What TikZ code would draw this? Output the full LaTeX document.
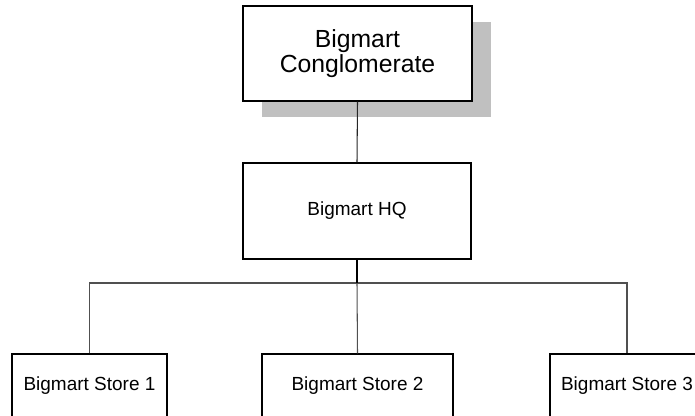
\documentclass[tikz,border=0pt]{standalone}
\usepackage{fontspec}
\setmainfont{Liberation Sans}
\usepackage{tikz}
\usetikzlibrary{positioning, shadows}
\definecolor{mydark}{RGB}{0,0,0}
\definecolor{mygrey}{RGB}{80,80,80}
\definecolor{myshadow}{RGB}{192,192,192}
\tikzset{
  orgbox/.style={rectangle, draw=mydark, fill=white, align=center,
    line width=0.9pt, inner sep=0pt,
    font=\fontsize{13.5}{16}\selectfont},
  topbox/.style={orgbox, font=\fontsize{17.6}{17.5}\selectfont,
    drop shadow={shadow xshift=0.475cm, shadow yshift=-0.4cm,
      fill=myshadow, opacity=1}},
  line/.style={line width=0.75pt, color=mygrey},
  thickline/.style={line width=1.4pt, color=mydark}
}

\begin{document}
\begin{tikzpicture}
  \useasboundingbox (0,0) rectangle (17.375,10.4);
  \clip (0,0) rectangle (17.375,10.4);

  % Top level
  \node[topbox, minimum width=5.725cm, minimum height=2.375cm] (conglom) at (8.9375,9.0625) {Bigmart\\Conglomerate};

  % Head office
  \node[orgbox, minimum width=5.7cm, minimum height=2.4cm] (hq) at (8.925,5.125) {Bigmart HQ};

  % Stores
  \node[orgbox, minimum width=3.875cm, minimum height=1.6cm] (store1) at (2.2375,0.75) {Bigmart Store 1};
  \node[orgbox, minimum width=4.775cm, minimum height=1.6cm] (store2) at (8.9375,0.75) {Bigmart Store 2};
  \node[orgbox, minimum width=3.85cm, minimum height=1.6cm] (store3) at (15.675,0.75) {Bigmart Store 3};

  % Connectors
  \coordinate (bus) at (hq.south |- 0,3.325);
  \draw[line, color=mydark!85] (conglom.south) -- (hq.north);
  \draw[line] (store1.north) |- (bus) -| (store3.north);
  \draw[line] (bus) -- (store2.north);
  \draw[thickline] (hq.south) -- (bus);
\end{tikzpicture}
\end{document}
